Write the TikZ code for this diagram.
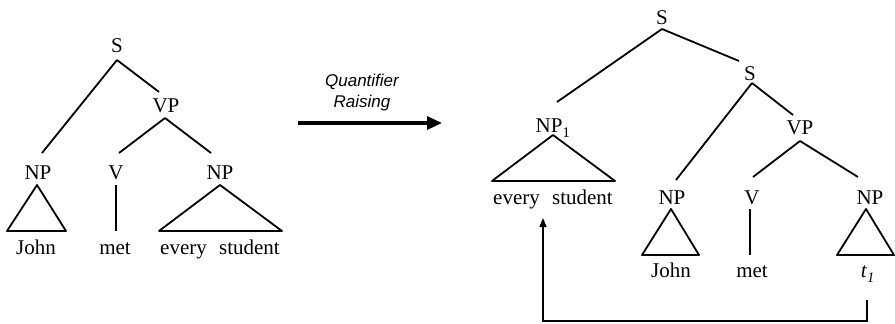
\documentclass[tikz,border=0pt]{standalone}
\usepackage{fontspec}
\setmainfont{Liberation Serif}
\newfontfamily\arialfont{Liberation Sans}
\usetikzlibrary{arrows.meta}
\begin{document}
\begin{tikzpicture}[x=1pt,y=-1pt,
  lab/.style={anchor=base,inner sep=0pt,font=\fontsize{21}{24}\selectfont},
  qr/.style={inner sep=0pt,font=\arialfont\itshape\fontsize{17}{20}\selectfont},
  branch/.style={line width=1.8pt,line join=round},
  bigarrow/.style={line width=3.2pt,-{Triangle[length=15pt,width=13pt]}},
  movearrow/.style={line width=1.3pt,-{Triangle[length=9pt,width=7pt]}}]
\useasboundingbox (0,0) rectangle (895,324);

% ---------- left tree ----------
\node[lab] (lS) at (117,52) {S};
\node[lab] (lVP) at (166,112) {VP};
\node[lab] (lNPa) at (38,179) {NP};
\node[lab] (lV) at (116,179) {V};
\node[lab] (lNPb) at (220,179) {NP};
\node[lab] (lJohn) at (36,254) {John};
\node[lab] (lmet) at (115,254) {met};
\node[lab] (les) at (220,254) {every\,\, student};

\coordinate (lSb) at (117,60);
\coordinate (lNPat) at (42,153);
\coordinate (lVPt) at (159,92);
\coordinate (lVPb) at (165,118);
\coordinate (lVt) at (119,153);
\coordinate (lNPbt) at (211,153);
\coordinate (lJa) at (37,185);
\coordinate (lJl) at (7,231);
\coordinate (lJr) at (66,231);
\coordinate (lmt) at (116,185);
\coordinate (lmb) at (116,231);
\coordinate (lEa) at (220,185);
\coordinate (lEl) at (159,231);
\coordinate (lEr) at (282,231);

\draw[branch] (lSb) -- (lNPat);
\draw[branch] (lSb) -- (lVPt);
\draw[branch] (lVPb) -- (lVt);
\draw[branch] (lVPb) -- (lNPbt);
\draw[branch] (lJa) -- (lJl) -- (lJr) -- cycle;
\draw[branch] (lmt) -- (lmb);
\draw[branch] (lEa) -- (lEl) -- (lEr) -- cycle;

% ---------- arrow ----------
\node[qr] (q1) at (362,82) {Quantifier};
\node[qr] (q2) at (362,103) {Raising};
\coordinate (a1) at (298,123);
\coordinate (a2) at (442,123);
\draw[bigarrow] (a1) -- (a2);

% ---------- right tree ----------
\node[lab] (rS) at (662,24) {S};
\node[lab] (rS2) at (750,80) {S};
\node[lab] (rNP1) at (553,132) {NP\raisebox{-0.25ex}{\textsubscript{1}}};
\node[lab] (res) at (553,204) {every\,\, student};
\node[lab] (rVP) at (800,134) {VP};
\node[lab] (rNPa) at (672,204) {NP};
\node[lab] (rV) at (752,204) {V};
\node[lab] (rNPb) at (870,204) {NP};
\node[lab] (rJohn) at (671,277) {John};
\node[lab] (rmet) at (752,277) {met};
\node[lab] (rt) at (868,277) {\textit{t}\raisebox{-0.25ex}{\textsubscript{\textit{1}}}};

\coordinate (rSb) at (662,29);
\coordinate (rNP1t) at (557,102);
\coordinate (rS2t) at (739,61);
\coordinate (rS2b) at (752,83);
\coordinate (rNPat) at (676,180);
\coordinate (rVPt) at (793,115);
\coordinate (rVPb) at (800,141);
\coordinate (rVt) at (753,177);
\coordinate (rNPbt) at (858,177);
\coordinate (rEa) at (553,135);
\coordinate (rEl) at (492,181);
\coordinate (rEr) at (615,181);
\coordinate (rJa) at (671,209);
\coordinate (rJl) at (642,255);
\coordinate (rJr) at (699,255);
\coordinate (rmt) at (750,209);
\coordinate (rmb) at (750,255);
\coordinate (rTa) at (866,209);
\coordinate (rTl) at (837,255);
\coordinate (rTr) at (894,255);

\draw[branch] (rSb) -- (rNP1t);
\draw[branch] (rSb) -- (rS2t);
\draw[branch] (rS2b) -- (rNPat);
\draw[branch] (rS2b) -- (rVPt);
\draw[branch] (rVPb) -- (rVt);
\draw[branch] (rVPb) -- (rNPbt);
\draw[branch] (rEa) -- (rEl) -- (rEr) -- cycle;
\draw[branch] (rJa) -- (rJl) -- (rJr) -- cycle;
\draw[branch] (rmt) -- (rmb);
\draw[branch] (rTa) -- (rTl) -- (rTr) -- cycle;

% ---------- movement arrow ----------
\coordinate (mvs) at (867,300);
\coordinate (mvc) at (867,321);
\coordinate (mvtip) at (543,218);
\draw[movearrow] (mvs) -- (mvc) -| (mvtip);
\end{tikzpicture}
\end{document}
